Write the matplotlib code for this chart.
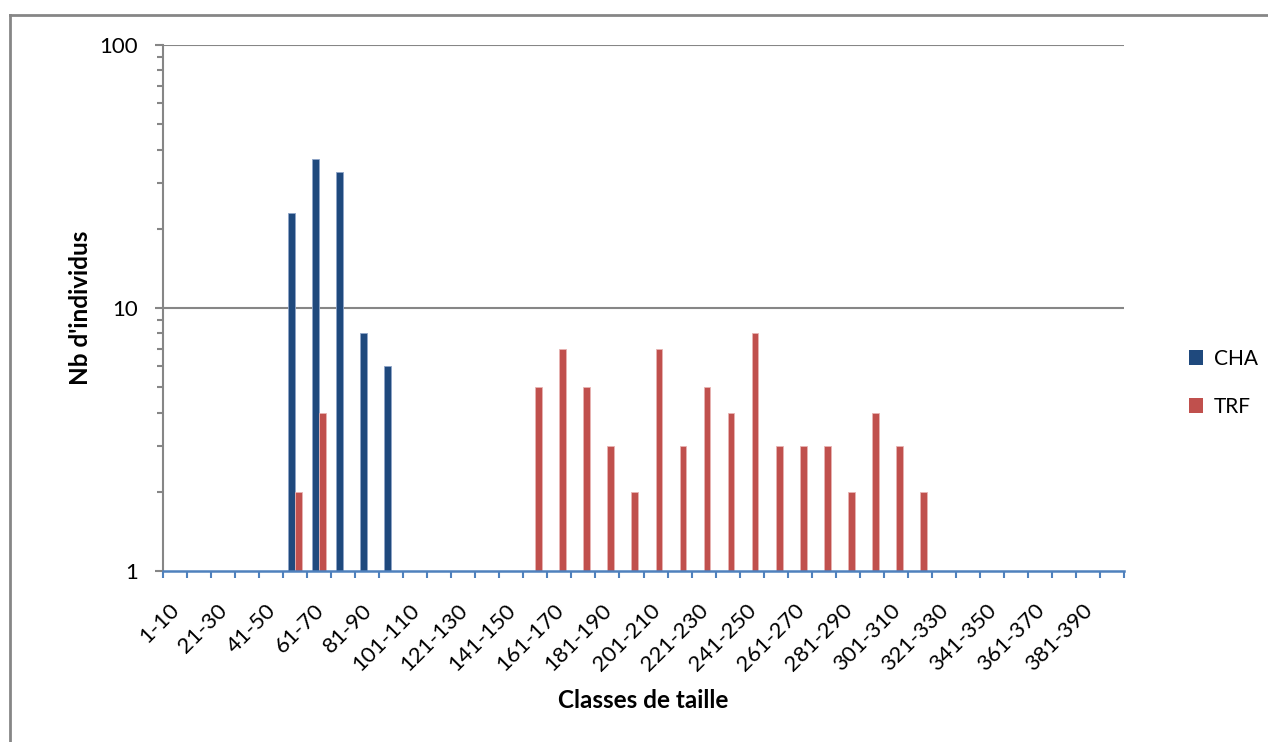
import matplotlib
matplotlib.use("Agg")
import matplotlib.pyplot as plt
from matplotlib.lines import Line2D
from matplotlib.patches import Patch
from matplotlib.ticker import FixedLocator, NullFormatter, LogLocator
import numpy as np

plt.rcParams['font.family'] = ['Lato', 'DejaVu Sans']

categories = ["1-10", "11-20", "21-30", "31-40", "41-50", "51-60", "61-70", "71-80",
              "81-90", "91-100", "101-110", "111-120", "121-130", "131-140", "141-150",
              "151-160", "161-170", "171-180", "181-190", "191-200", "201-210", "211-220",
              "221-230", "231-240", "241-250", "251-260", "261-270", "271-280", "281-290",
              "291-300", "301-310", "311-320", "321-330", "331-340", "341-350", "351-360",
              "361-370", "371-380", "381-390", "391-400"]
cha = [0, 0, 0, 0, 0, 23, 37, 33, 8, 6,
       0, 0, 0, 0, 0, 0, 0, 0, 0, 0,
       0, 0, 0, 0, 0, 0, 0, 0, 0, 0,
       0, 0, 0, 0, 0, 0, 0, 0, 0, 0]
trf = [0, 0, 0, 0, 0, 2, 4, 0, 0, 0,
       0, 0, 0, 0, 0, 5, 7, 5, 3, 2,
       7, 3, 5, 4, 8, 3, 3, 3, 2, 4,
       3, 2, 0, 0, 0, 0, 0, 0, 0, 0]
series_names = ["CHA", "TRF"]
colors = ["#1F497D", "#C0504D"]
edge_colors = ["#8EA5C8", "#E8B4B3"]

W, H = 1268, 742
fig = plt.figure(figsize=(W / 100, H / 100), dpi=100)
ax = fig.add_axes([163 / W, (H - 571) / H, (1124 - 163) / W, (571 - 45) / H])

x = np.arange(len(categories))
bw = 1 / 3.5
for i, (vals, name) in enumerate(zip([cha, trf], series_names)):
    v = np.array(vals, dtype=float)
    mask = v > 0
    off = (i - 0.5) * bw
    ax.bar(x[mask] + off, v[mask], width=bw, color=colors[i],
           edgecolor=edge_colors[i], linewidth=0.6, label=name, zorder=3)

ax.set_yscale('log')
ax.set_ylim(1, 100)
ax.set_xlim(-0.5, len(categories) - 0.5)

gray = "#868686"
blue = "#4F81BD"

# y axis
ax.yaxis.set_major_locator(FixedLocator([1, 10, 100]))
ax.yaxis.set_minor_locator(LogLocator(base=10, subs=np.arange(2, 10)))
ax.yaxis.set_minor_formatter(NullFormatter())
ax.set_yticklabels(["1", "10", "100"])
ax.tick_params(axis='y', which='major', length=6, width=1.5, color=gray,
               labelsize=16, pad=12, direction='out')
ax.tick_params(axis='y', which='minor', length=4, width=1.5, color=gray, direction='out')
for yv in [10, 100]:
    ax.axhline(yv, color=gray, linewidth=1.5, zorder=1)

# x axis
ax.set_xticks(np.arange(-0.5, len(categories), 1.0), minor=False)
ax.set_xticklabels([])
ax.tick_params(axis='x', which='major', length=5, width=1.5, color=blue, direction='out')
for i in range(0, len(categories), 2):
    ax.annotate(categories[i], xy=(x[i], 0), xycoords=('data', 'axes fraction'),
                xytext=(1, -26), textcoords='offset points', rotation=45,
                ha='right', va='center', rotation_mode='anchor', fontsize=16)

for s in ['top', 'right']:
    ax.spines[s].set_visible(False)
ax.spines['left'].set_color(gray)
ax.spines['left'].set_linewidth(1.5)
ax.spines['bottom'].set_color(blue)
ax.spines['bottom'].set_linewidth(1.8)
ax.spines['bottom'].set_zorder(4)

fig.text(643 / W, 1 - 700 / H, "Classes de taille", ha='center', va='center',
         fontsize=17.5, fontweight='bold')
fig.text(80 / W, 1 - 308 / H, "Nb d'individus", ha='center', va='center',
         fontsize=17.5, fontweight='bold', rotation=90)

handles = [Patch(facecolor=c) for c in colors]
fig.legend(handles, series_names, loc='center left',
           bbox_to_anchor=(1170 / W, 1 - 383 / H), frameon=False, fontsize=15,
           handlelength=0.7, handleheight=0.7, handletextpad=0.5, labelspacing=1.35)

# chart frame
fig.add_artist(Line2D([10 / W, 10 / W], [0, 1 - 15 / H], transform=fig.transFigure,
                      color=gray, linewidth=2))
fig.add_artist(Line2D([10 / W, 1], [1 - 15 / H, 1 - 15 / H], transform=fig.transFigure,
                      color=gray, linewidth=2))

fig.savefig("out.png", dpi=100)
